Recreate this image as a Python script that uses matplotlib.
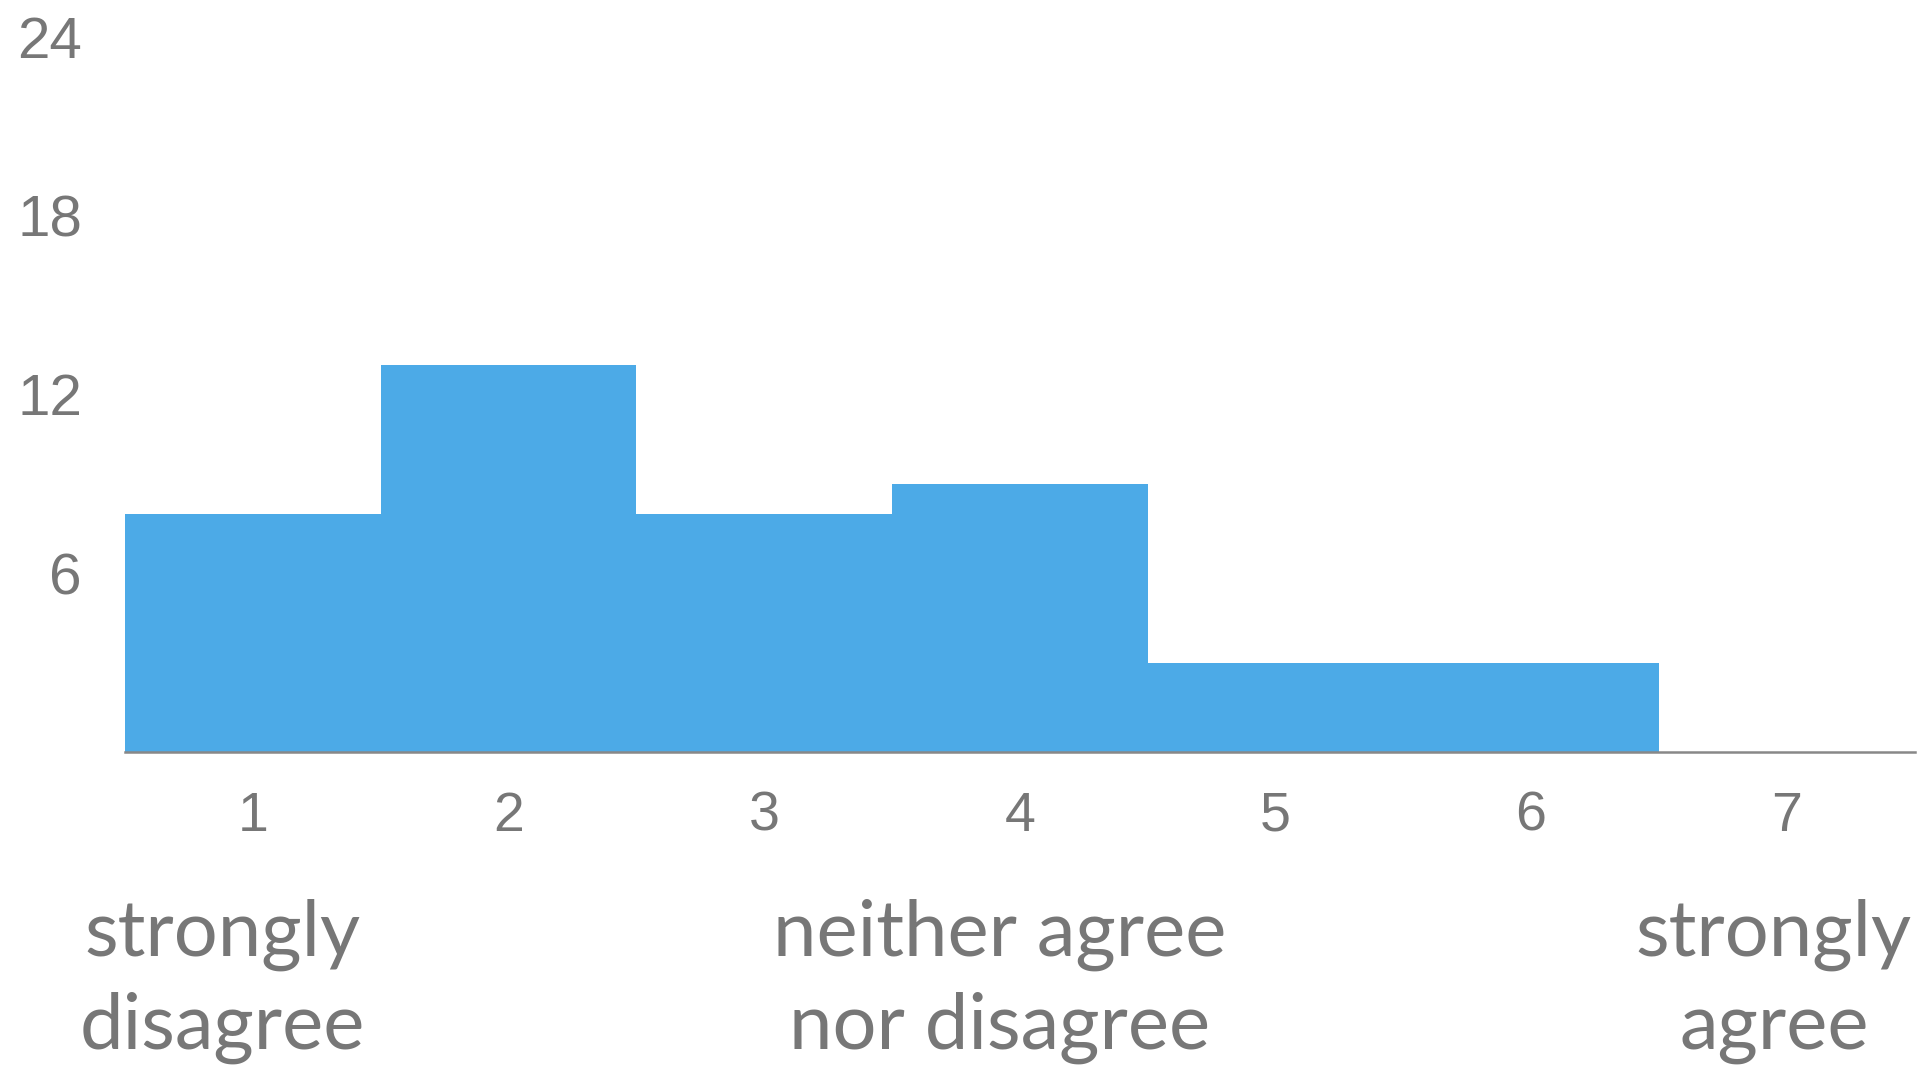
import matplotlib
matplotlib.use("Agg")
import matplotlib.pyplot as plt

# response counts per scale point
scores = [1, 2, 3, 4, 5, 6, 7]
counts = [8, 13, 8, 9, 3, 3, 0]
y_ticks = [6, 12, 18, 24]
anchor_pos = [0.88, 3.92, 6.95]
anchor_labels = ["strongly\ndisagree", "neither agree\nnor disagree", "strongly\nagree"]

bar_color = "#4CAAE7"
text_color = "#777777"

fig = plt.figure(figsize=(19.18, 10.72), dpi=100)
ax = fig.add_axes([0.0652, 0.2985, 0.933, 0.667])

ax.bar(scores, counts, width=1.0, color=bar_color, linewidth=0)
ax.set_xlim(0.5, 7.5)
ax.set_ylim(0, 24)

for side in ["top", "right", "left"]:
    ax.spines[side].set_visible(False)
ax.spines["bottom"].set_color("#888888")
ax.spines["bottom"].set_linewidth(1.8)

ax.set_yticks(y_ticks)
ax.set_yticklabels([str(v) for v in y_ticks])
ax.set_xticks(scores)
ax.set_xticklabels([str(v) for v in scores])
ax.tick_params(axis="both", length=0, colors=text_color, labelsize=40)
ax.tick_params(axis="y", pad=31, labelsize=42)
ax.tick_params(axis="x", pad=28)
for lbl in ax.get_xticklabels() + ax.get_yticklabels():
    lbl.set_family("Liberation Sans")

# text anchors under the scale ends and midpoint
for x, txt in zip(anchor_pos, anchor_labels):
    ax.text(x, -7.7, txt, ha="center", va="center", fontsize=56,
            color=text_color, family="Lato", linespacing=1.35,
            transform=ax.transData, clip_on=False)

fig.savefig("out.png", dpi=100)
